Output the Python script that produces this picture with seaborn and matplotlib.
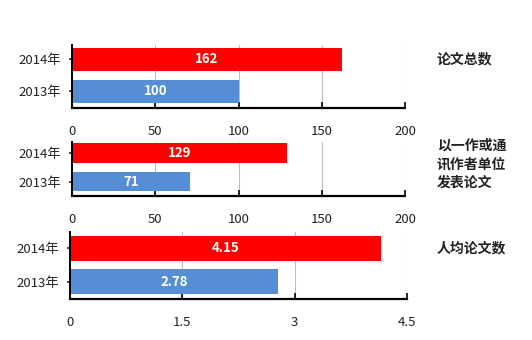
import matplotlib
matplotlib.use("Agg")
import matplotlib.pyplot as plt
import seaborn as sns
import pandas as pd

sns.set_style("white")
plt.rcParams['font.family'] = ['Noto Sans CJK SC', 'DejaVu Sans']

years = ["2014年", "2013年"]
total_papers = [162, 100]
first_author_papers = [129, 71]
per_capita_papers = [4.15, 2.78]
titles = ["论文总数", "以一作或通\n讯作者单位\n发表论文", "人均论文数"]
value_labels = [["162", "100"], ["129", "71"], ["4.15", "2.78"]]
ticks = [[0, 50, 100, 150, 200], [0, 50, 100, 150, 200], [0, 1.5, 3, 4.5]]
tick_labels = [["0", "50", "100", "150", "200"],
               ["0", "50", "100", "150", "200"],
               ["0", "1.5", "3", "4.5"]]

palette = {"2014年": "#FF0000", "2013年": "#558ED5"}

fig = plt.figure(figsize=(5.32, 3.4), dpi=100)

# axes rectangles: left, bottom, width, height (figure fraction)
rects = [
    [72 / 532, 1 - 108 / 340, 333 / 532, 63 / 340],
    [72 / 532, 1 - 196 / 340, 333 / 532, 54 / 340],
    [70 / 532, 1 - 299 / 340, 337 / 532, 67 / 340],
]
ylims = [(1.52, -0.45), (1.51, -0.39), (1.51, -0.49)]
widths = [0.72, 0.70, 0.75]
series = [total_papers, first_author_papers, per_capita_papers]
title_y = [59, 164, 248]

for i in range(3):
    ax = fig.add_axes(rects[i])
    df = pd.DataFrame({"year": years, "value": series[i]})
    sns.barplot(data=df, x="value", y="year", hue="year", palette=palette,
                orient="h", width=widths[i], legend=False, ax=ax,
                saturation=1, linewidth=0)
    ax.set_xlim(ticks[i][0], ticks[i][-1])
    ax.set_ylim(*ylims[i])
    ax.set_xticks(ticks[i])
    ax.set_xticklabels(tick_labels[i], fontsize=9.5, color="#222222")
    ax.set_yticks([0, 1])
    ax.set_yticklabels(years, fontsize=9.5, color="#222222")
    ax.set_xlabel("")
    ax.set_ylabel("")
    ax.xaxis.grid(True, color="#BEBEBE", linewidth=0.8)
    ax.set_axisbelow(True)
    for side in ["top", "right"]:
        ax.spines[side].set_visible(False)
    ax.spines["left"].set_color("black")
    ax.spines["left"].set_linewidth(1.4)
    ax.spines["bottom"].set_color("black")
    ax.spines["bottom"].set_linewidth(1.6)
    ax.tick_params(axis="x", direction="in", length=4, width=1.2, pad=12,
                   bottom=True, colors="black", labelcolor="#222222")
    ax.tick_params(axis="y", direction="out", length=2, width=1.2, pad=6,
                   left=True)
    for j, v in enumerate(series[i]):
        ax.text(v / 2, j, value_labels[i][j], ha="center", va="center",
                color="white", fontsize=9.5, fontweight="bold")
    fig.text(437 / 532, 1 - title_y[i] / 340, titles[i], ha="left",
             va="center", fontsize=10, fontweight="bold", linespacing=1.45,
             color="#222222")

fig.savefig("out.png", dpi=100)
